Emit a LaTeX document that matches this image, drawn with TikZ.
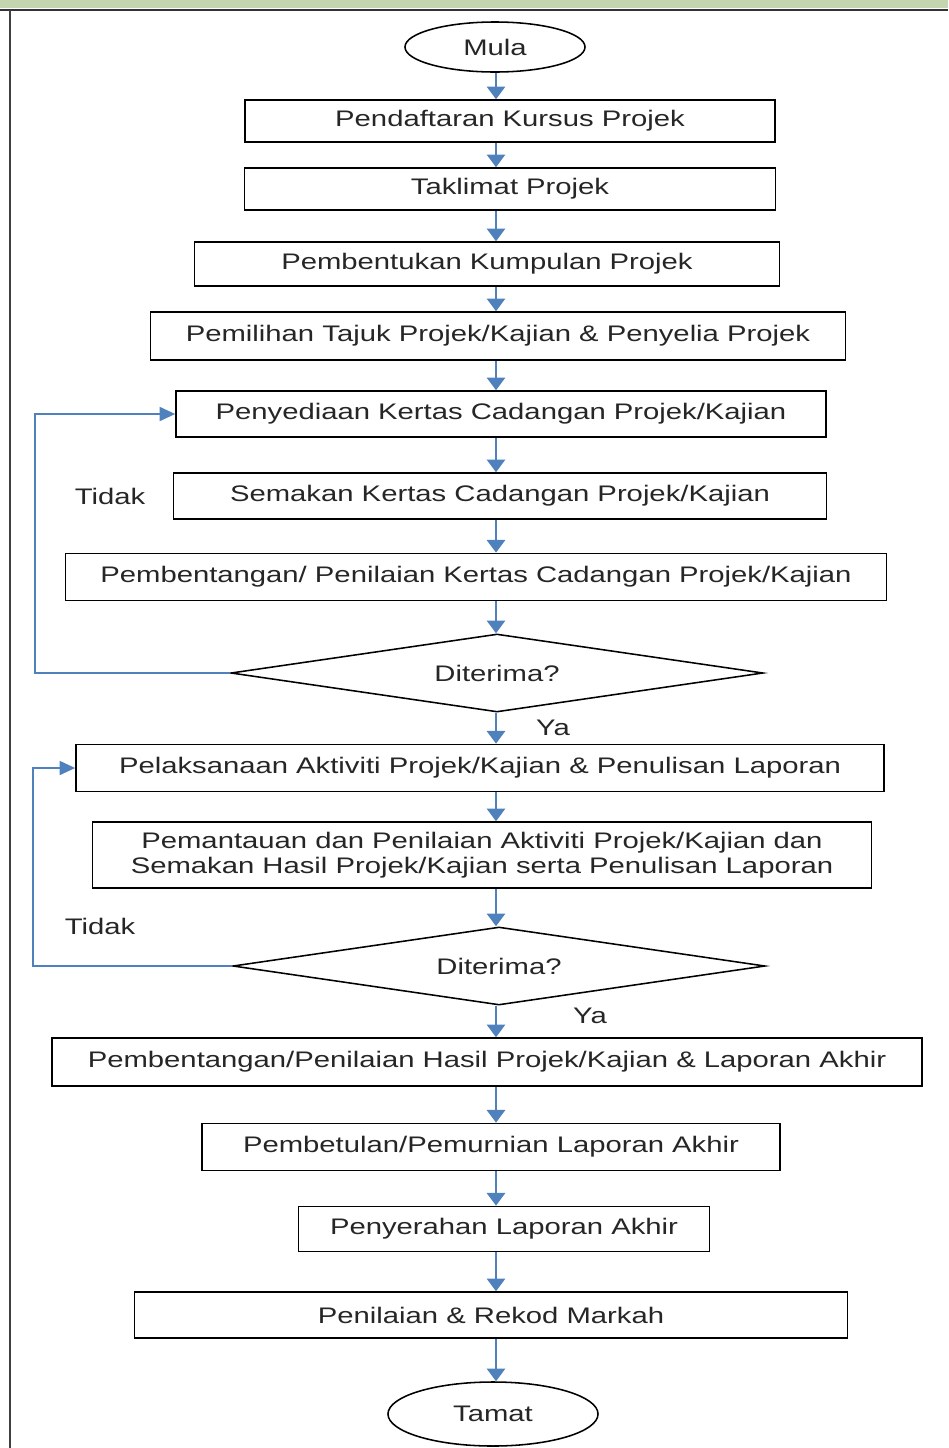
\documentclass[tikz,border=0pt]{standalone}
\usepackage{fontspec}
\setmainfont{Liberation Sans}[FakeStretch=1.3]
\usetikzlibrary{shapes.geometric,arrows.meta}
\definecolor{pfeilblau}{RGB}{79,129,189}
\definecolor{randgruen}{RGB}{196,214,176}

\begin{document}
\begin{tikzpicture}[x=0.025cm,y=-0.025cm,
    kasten/.style={draw, line width=1.1pt, inner sep=0pt, align=center,
      font=\fontsize{16}{18}\selectfont, text=black!85},
    oval/.style={ellipse, draw, line width=1.1pt, inner sep=0pt,
      font=\fontsize{16}{18}\selectfont, text=black!85},
    raute/.style={diamond, draw, line width=1.1pt, inner sep=0pt, shape aspect=6.8,
      minimum width=13.3cm, minimum height=1.95cm,
      font=\fontsize{16}{18}\selectfont, text=black!85},
    pfeil/.style={draw=pfeilblau, line width=1.6pt,
      -{Triangle[width=13pt,length=9pt]}},
    schleife/.style={draw=pfeilblau, line width=1.1pt,
      -{Triangle[width=10pt,length=11pt]}},
    beschriftung/.style={font=\fontsize{16}{18}\selectfont, text=black!85}]

    % Rahmen der Seite
    \useasboundingbox (0,0) rectangle (948,1448);
    \fill[randgruen] (0,0) rectangle (948,8);
    \draw[black!80, line width=1.5pt] (0,10) -- (948,10);
    \draw[black!75, line width=2pt] (10,10) -- (10,1448);

    % Start und Ende
    \node[oval, minimum width=4.5cm, minimum height=1.25cm] (mula) at (495,47) {Mula};
    \node[oval, minimum width=5.25cm, minimum height=1.6cm] (tamat) at (493,1414) {Tamat};

    % Schritte als Kaesten
    \node[kasten, minimum width=13.25cm, minimum height=1.05cm] (daftar) at (510,121) {Pendaftaran Kursus Projek};
    \node[kasten, minimum width=13.28cm, minimum height=1.05cm] (taklimat) at (510,189) {Taklimat Projek};
    \node[kasten, minimum width=14.63cm, minimum height=1.1cm] (kumpulan) at (487,264) {Pembentukan Kumpulan Projek};
    \node[kasten, minimum width=17.38cm, minimum height=1.2cm] (tajuk) at (498,336) {Pemilihan Tajuk Projek/Kajian \& Penyelia Projek};
    \node[kasten, minimum width=16.25cm, minimum height=1.15cm] (sedia) at (501,414) {Penyediaan Kertas Cadangan Projek/Kajian};
    \node[kasten, minimum width=16.33cm, minimum height=1.15cm] (semak) at (500,496) {Semakan Kertas Cadangan Projek/Kajian};
    \node[kasten, minimum width=20.53cm, minimum height=1.18cm] (bentang) at (476,577) {Pembentangan/ Penilaian Kertas Cadangan Projek/Kajian};
    \node[raute] (terima1) at (497,673) {Diterima?};
    \node[kasten, minimum width=20.2cm, minimum height=1.18cm] (laksana) at (480,768) {Pelaksanaan Aktiviti Projek/Kajian \& Penulisan Laporan};
    \node[kasten, minimum width=19.48cm, minimum height=1.65cm] (pantau) at (482,855) {Pemantauan dan Penilaian Aktiviti Projek/Kajian dan\\Semakan Hasil Projek/Kajian serta Penulisan Laporan};
    \node[raute] (terima2) at (499,966) {Diterima?};
    \node[kasten, minimum width=21.75cm, minimum height=1.2cm] (hasil) at (487,1062) {Pembentangan/Penilaian Hasil Projek/Kajian \& Laporan Akhir};
    \node[kasten, minimum width=14.45cm, minimum height=1.18cm] (betul) at (491,1147) {Pembetulan/Pemurnian Laporan Akhir};
    \node[kasten, minimum width=10.28cm, minimum height=1.13cm] (serah) at (504,1229) {Penyerahan Laporan Akhir};
    \node[kasten, minimum width=17.83cm, minimum height=1.15cm] (markah) at (491,1315) {Penilaian \& Rekod Markah};

    % Senkrechte Pfeile entlang der Mittellinie
    \coordinate (mitte) at (496,0);
    \foreach \a/\b in {mula/daftar, daftar/taklimat, taklimat/kumpulan, kumpulan/tajuk,
        tajuk/sedia, sedia/semak, semak/bentang, bentang/terima1, terima1/laksana,
        laksana/pantau, pantau/terima2, terima2/hasil, hasil/betul, betul/serah,
        serah/markah, markah/tamat} {
        \draw[pfeil] (\a.south -| mitte) -- (\b.north -| mitte);
    }

    % Rueckfuehrungen bei "Tidak"
    \draw[schleife] (terima1.west) -- ++(-195,0) |- (sedia.west);
    \draw[schleife] (terima2.west) -- ++(-199,0) |- (laksana.west);

    % Beschriftungen
    \node[beschriftung] (tidak1) at (110,496) {Tidak};
    \node[beschriftung] (tidak2) at (100,926) {Tidak};
    \node[beschriftung] (ya1) at (553,728) {Ya};
    \node[beschriftung] (ya2) at (590,1016) {Ya};

\end{tikzpicture}
\end{document}
